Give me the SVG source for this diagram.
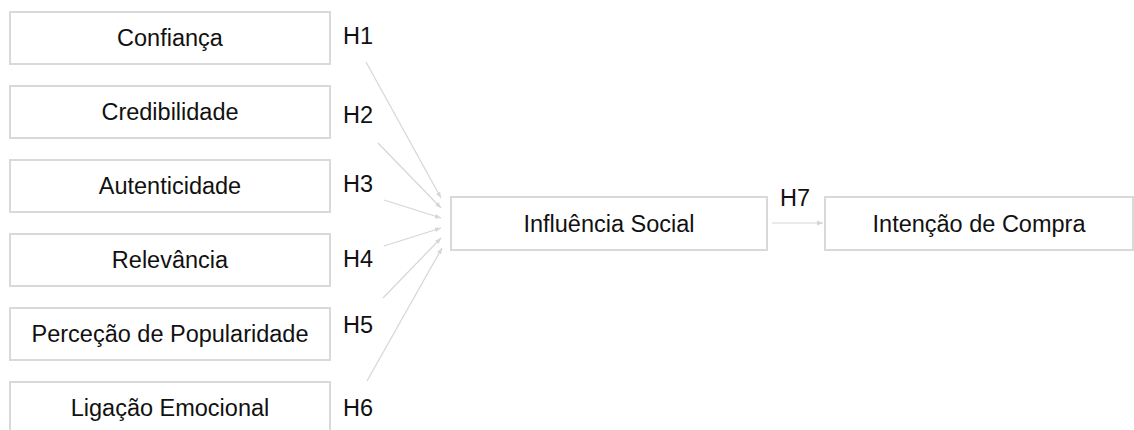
<svg xmlns="http://www.w3.org/2000/svg" width="1134" height="430" viewBox="0 0 1134 430">
<style>
.box{fill:#fff;stroke:#d9d9d9;stroke-width:2}
.t{font-family:"Liberation Sans",Arial,sans-serif;font-size:23.5px;fill:#111;text-anchor:middle}
.h{font-family:"Liberation Sans",Arial,sans-serif;font-size:23.5px;fill:#111}
.c{stroke:#d6d6d6;stroke-width:1.2;fill:none;marker-end:url(#ah)}
</style>
<defs>
<marker id="ah" viewBox="0 0 10 10" refX="10" refY="5" markerWidth="6" markerHeight="6" markerUnits="userSpaceOnUse" orient="auto">
<path d="M0,1 L10,5 L0,9 z" fill="#d6d6d6"/>
</marker>
</defs>
<rect width="1134" height="430" fill="#fff"/>
<g id="n1"><rect class="box" x="10" y="12" width="320" height="52"/><text class="t" x="170" y="46">Confiança</text></g>
<g id="n2"><rect class="box" x="10" y="86" width="320" height="52"/><text class="t" x="170" y="120">Credibilidade</text></g>
<g id="n3"><rect class="box" x="10" y="160" width="320" height="52"/><text class="t" x="170" y="194">Autenticidade</text></g>
<g id="n4"><rect class="box" x="10" y="234" width="320" height="52"/><text class="t" x="170" y="268">Relevância</text></g>
<g id="n5"><rect class="box" x="10" y="308" width="320" height="52"/><text class="t" x="170" y="342">Perceção de Popularidade</text></g>
<g id="n6"><rect class="box" x="10" y="382" width="320" height="52"/><text class="t" x="170" y="416">Ligação Emocional</text></g>
<g id="n7"><rect class="box" x="451" y="197" width="316" height="53"/><text class="t" x="609" y="232">Influência Social</text></g>
<g id="n8"><rect class="box" x="825" y="197" width="308" height="53"/><text class="t" x="979" y="232">Intenção de Compra</text></g>
<g id="connectors">
<line class="c" x1="366" y1="62" x2="441" y2="198"/>
<line class="c" x1="378" y1="143" x2="441" y2="208"/>
<line class="c" x1="384" y1="200" x2="441" y2="218"/>
<line class="c" x1="384" y1="246" x2="441" y2="228"/>
<line class="c" x1="383" y1="298" x2="441" y2="238"/>
<line class="c" x1="367" y1="381" x2="442" y2="248"/>
<line class="c" x1="772" y1="223" x2="823" y2="223"/>
</g>
<g id="labels">
<text class="h" x="343" y="44">H1</text>
<text class="h" x="343" y="123">H2</text>
<text class="h" x="343" y="192">H3</text>
<text class="h" x="343" y="267">H4</text>
<text class="h" x="343" y="333">H5</text>
<text class="h" x="343" y="416">H6</text>
<text class="h" x="780" y="206">H7</text>
</g>
</svg>
